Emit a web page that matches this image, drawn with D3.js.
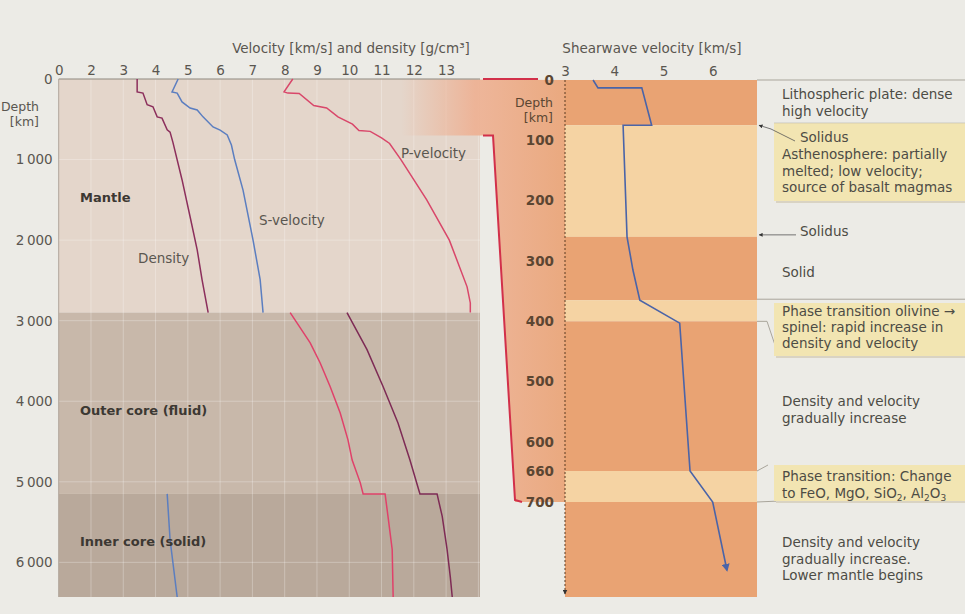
<!DOCTYPE html>
<html>
<head>
<meta charset="utf-8">
<script src="https://cdn.jsdelivr.net/npm/d3@7"></script>
<style>
  html, body { margin: 0; padding: 0; background: #ecebe6; }
  svg { display: block; font-family: "DejaVu Sans", "Open Sans", sans-serif; }
</style>
</head>
<body>
<svg id="chart" width="965" height="614"></svg>
<script>
// ---- Whole-Earth profile (left panel) ----
const velTicks = [1, 2, 3, 4, 5, 6, 7, 8, 9, 10, 11, 12, 13];
const velTickLabels = ["0", "2", "3", "4", "5", "6", "7", "8", "9", "10", "11", "12", "13"];
const depthTicks = [0, 1000, 2000, 3000, 4000, 5000, 6000];

const earthLayers = ["Mantle", "Outer core (fluid)", "Inner core (solid)"];
const earthLayerTop = [0, 2900, 5150];
const earthLayerBottom = [2900, 5150, 6430];

// [depth km, value]
const densityMantle = [[0,3.43],[160,3.43],[175,3.61],[320,3.74],[345,3.92],[470,4.05],[485,4.2],[630,4.36],[660,4.45],[790,4.54],[1250,4.82],[1710,5.07],[2120,5.29],[2490,5.44],[2900,5.63]];
const densityCore = [[2900,9.93],[3360,10.55],[3820,11.05],[4270,11.51],[4730,11.88],[5150,12.19],[5150,12.72],[5430,12.88],[5840,13.03],[6180,13.13],[6430,13.19]];
const sVelMantle = [[0,4.70],[160,4.51],[175,4.67],[285,4.82],[360,5.07],[385,5.29],[470,5.47],[595,5.78],[635,6.0],[695,6.22],[820,6.35],[1000,6.45],[1380,6.71],[2000,7.02],[2490,7.24],[2900,7.33]];
const sVelInnerCore = [[5150,4.36],[5720,4.45],[6430,4.67]];
const pVelMantle = [[0,8.25],[160,7.98],[175,8.1],[180,8.45],[330,8.9],[360,9.3],[470,9.65],[560,10.1],[640,10.3],[650,10.65],[730,11.0],[800,11.25],[1000,11.6],[1500,12.4],[2000,13.1],[2580,13.65],[2780,13.75],[2900,13.75]];
const pVelCore = [[2900,8.17],[3275,8.79],[3525,9.1],[3820,9.41],[4145,9.72],[4480,9.96],[4730,10.09],[5010,10.34],[5150,10.43],[5150,11.11],[5430,11.2],[5840,11.33],[6430,11.36]];

// ---- Upper mantle detail (right panel) ----
const shearTicks = [3, 4, 5, 6];
const upperDepthTicks = [0, 100, 200, 300, 400, 500, 600, 660, 700];
const bandEdges = [0, 75, 260, 365, 400, 660, 700, 860];
const bandKind = ["solid", "soft", "solid", "soft", "solid", "soft", "solid"];
const shearProfile = [[0,3.57],[13,3.67],[13,4.56],[75,4.76],[75,4.18],[260,4.26],[315,4.38],[365,4.52],[403,5.33],[660,5.54],[700,6.0],[815,6.29]];

const noteLitho = ["Lithospheric plate: dense", "high velocity"];
const noteAstheno = ["Asthenosphere: partially", "melted; low velocity;", "source of basalt magmas"];
const noteSolidus = "Solidus";
const noteSolid = "Solid";
const noteOlivine = ["Phase transition olivine \u2192", "spinel: rapid increase in", "density and velocity"];
const noteGradual = ["Density and velocity", "gradually increase"];
const notePhase660 = "Phase transition: Change";
const noteLower = ["Density and velocity", "gradually increase.", "Lower mantle begins"];

const svg = d3.select("#chart");
const textCol = "#4d4c45";
const fs = 13.5;

// scales
const xL = d3.scaleLinear().domain([1, 14.05]).range([58.7, 480]);
const yL = d3.scaleLinear().domain([0, 6430]).range([79, 597]);
const xR = d3.scaleLinear().domain([3, 6.9]).range([565, 757]);
const yR = d3.scaleLinear().domain([0, 600, 660, 700, 860]).range([80, 442, 471, 502, 597]);

const defs = svg.append("defs");
const grad = defs.append("linearGradient").attr("id", "wedge").attr("x1", "0").attr("x2", "1").attr("y1", "0").attr("y2", "0");
grad.append("stop").attr("offset", "0").attr("stop-color", "#eeb092").attr("stop-opacity", 0);
grad.append("stop").attr("offset", "0.45").attr("stop-color", "#eeb092").attr("stop-opacity", 0.9);
grad.append("stop").attr("offset", "1").attr("stop-color", "#eaa97f").attr("stop-opacity", 1);
defs.append("marker").attr("id", "arrowBlue").attr("viewBox", "0 0 10 10").attr("refX", 8).attr("refY", 5)
  .attr("markerWidth", 5).attr("markerHeight", 5).attr("orient", "auto")
  .append("path").attr("d", "M0,0 L10,5 L0,10 z").attr("fill", "#4a64a8");
defs.append("marker").attr("id", "arrowDark").attr("viewBox", "0 0 10 10").attr("refX", 9).attr("refY", 5)
  .attr("markerWidth", 5).attr("markerHeight", 5).attr("orient", "auto")
  .append("path").attr("d", "M0,0 L10,5 L0,10 z").attr("fill", "#333");

// ---- left panel background layers ----
const layerFill = ["#e4d6cb", "#c8b8aa", "#b9a99b"];
svg.append("g").selectAll("rect").data(earthLayers).join("rect")
  .attr("x", xL(1)).attr("width", xL(14.05) - xL(1))
  .attr("y", (d, i) => yL(earthLayerTop[i]))
  .attr("height", (d, i) => yL(earthLayerBottom[i]) - yL(earthLayerTop[i]))
  .attr("fill", (d, i) => layerFill[i]);

// grid
const grid = svg.append("g").attr("stroke", "#ffffff").attr("stroke-opacity", 0.28).attr("stroke-width", 1);
grid.selectAll("line.v").data(velTicks.slice(1).concat([14])).join("line")
  .attr("x1", d => xL(d)).attr("x2", d => xL(d)).attr("y1", yL(0)).attr("y2", yL(6430));
grid.selectAll("line.h").data(depthTicks.slice(1)).join("line").attr("class", "h")
  .attr("x1", xL(1)).attr("x2", xL(14.05)).attr("y1", d => yL(d)).attr("y2", d => yL(d));

// zoom wedge linking 0-700 km of the left panel to the right panel
const wedgeTopL = yL(0), wedgeBotL = yL(700);
svg.append("path")
  .attr("d", `M${xL(11.6)},${wedgeTopL} L${xR(3)},${yR(0)} L${xR(3)},${yR(700)} L${xR(3) - 50},${yR(700)} L${xL(14.05) + 13},${wedgeBotL} L${xL(11.6)},${wedgeBotL} Z`)
  .attr("fill", "url(#wedge)");

// left panel frame lines
svg.append("line").attr("x1", xL(1)).attr("x2", xL(14.05)).attr("y1", yL(0)).attr("y2", yL(0)).attr("stroke", "#8e887e").attr("stroke-width", 1.2);
svg.append("line").attr("x1", xL(1)).attr("x2", xL(1)).attr("y1", yL(0)).attr("y2", yL(6430)).attr("stroke", "#b0a69c").attr("stroke-width", 1);

// ---- right panel bands ----
const bandFill = { solid: "#e9a373", soft: "#f5d3a3" };
svg.append("g").selectAll("rect").data(bandKind).join("rect")
  .attr("x", xR(3)).attr("width", xR(6.9) - xR(3))
  .attr("y", (d, i) => yR(bandEdges[i]))
  .attr("height", (d, i) => yR(bandEdges[i + 1]) - yR(bandEdges[i]))
  .attr("fill", d => bandFill[d]);

// annotation rules and boxes
const noteX = 782;
const rules = svg.append("g").attr("stroke", "#a9a59b").attr("stroke-width", 1).attr("fill", "none");
rules.append("line").attr("x1", xR(6.9)).attr("x2", 965).attr("y1", yR(0)).attr("y2", yR(0));
rules.append("line").attr("x1", xR(6.9)).attr("x2", 965).attr("y1", yR(365) - 1).attr("y2", yR(365) - 1);

const boxFill = "#f2e5b2";
function noteBox(y0, y1) {
  svg.append("rect").attr("x", 776).attr("y", y0 + 2).attr("width", 200).attr("height", y1 - y0).attr("fill", "#d9d3c3");
  svg.append("rect").attr("x", 774).attr("y", y0).attr("width", 200).attr("height", y1 - y0).attr("fill", boxFill);
}
noteBox(yR(75) - 2, 201);
noteBox(303, 356);
noteBox(yR(660) - 6, yR(700) - 1);

rules.append("line").attr("x1", 774).attr("x2", 965).attr("y1", yR(75) - 2).attr("y2", yR(75) - 2);
rules.append("path").attr("d", `M${xR(6.9)},${yR(400)} L${767},${yR(400)} L${778},${354}`);
rules.append("path").attr("d", `M${xR(6.9)},${yR(660)} L${768},${yR(660) - 6}`);
rules.append("path").attr("d", `M${xR(6.9)},${yR(700)} L${780},${yR(700) - 1}`);

// solidus pointers
svg.append("path").attr("d", `M${795},${141} L${771},${129} L${xR(6.9) + 2},${yR(75)}`)
  .attr("stroke", "#555").attr("stroke-width", 0.8).attr("fill", "none").attr("marker-end", "url(#arrowDark)");
svg.append("path").attr("d", `M${796},${yR(260) - 2} L${xR(6.9) + 2},${yR(260) - 2}`)
  .attr("stroke", "#555").attr("stroke-width", 0.8).attr("fill", "none").attr("marker-end", "url(#arrowDark)");

// note text
function lines(arr, y0, step) {
  const t = svg.append("text").attr("fill", textCol).attr("font-size", fs);
  arr.forEach((s, i) => t.append("tspan").attr("x", noteX).attr("y", y0 + i * step).text(s));
  return t;
}
const single = (x, y, s) => svg.append("text").attr("x", x).attr("y", y).attr("fill", textCol).attr("font-size", fs).text(s);
lines(noteLitho, 99, 16.5);
single(800, 142, noteSolidus);
lines(noteAstheno, 159, 16.5);
single(800, 236, noteSolidus);
single(noteX, 277, noteSolid);
lines(noteOlivine, 316, 16);
lines(noteGradual, 406, 16.5);
single(noteX, 481, notePhase660);
{
  const t = svg.append("text").attr("x", noteX).attr("y", 497.5).attr("fill", textCol).attr("font-size", fs);
  t.append("tspan").text("to FeO, MgO, SiO");
  t.append("tspan").attr("font-size", 9).attr("dy", 3).text("2");
  t.append("tspan").attr("dy", -3).text(", Al");
  t.append("tspan").attr("font-size", 9).attr("dy", 3).text("2");
  t.append("tspan").attr("dy", -3).text("O");
  t.append("tspan").attr("font-size", 9).attr("dy", 3).text("3");
}
lines(noteLower, 547, 16.5);

// right panel depth axis line (dashed, with arrow)
svg.append("line").attr("x1", xR(3)).attr("x2", xR(3)).attr("y1", yR(0)).attr("y2", yR(860) - 3)
  .attr("stroke", "#5a3b22").attr("stroke-width", 1).attr("stroke-dasharray", "2,2").attr("marker-end", "url(#arrowDark)");

// shear-wave profile
svg.append("path").datum(shearProfile)
  .attr("d", d3.line().x(d => xR(d[1])).y(d => yR(d[0])))
  .attr("fill", "none").attr("stroke", "#4a64a8").attr("stroke-width", 1.6).attr("marker-end", "url(#arrowBlue)");

// ---- left panel curves ----
const lineL = d3.line().x(d => xL(d[1])).y(d => yL(d[0]));
const curves = [
  [densityMantle, "#8c2f5c"], [densityCore, "#7e2b55"],
  [sVelMantle, "#5b7ec0"], [sVelInnerCore, "#5b7ec0"],
  [pVelMantle, "#d9476a"], [pVelCore, "#e0416a"]
];
svg.append("g").selectAll("path").data(curves).join("path")
  .attr("d", d => lineL(d[0])).attr("fill", "none").attr("stroke", d => d[1]).attr("stroke-width", 1.5);

// red bracket marking 0-700 km
const red = "#d2304a";
svg.append("line").attr("x1", xL(14.05) + 3).attr("x2", 538).attr("y1", yL(0)).attr("y2", yL(0)).attr("stroke", red).attr("stroke-width", 2);
svg.append("path").attr("d", `M${xL(14.05) + 3},${yL(700)} L${xL(14.05) + 13},${yL(700)} L${xR(3) - 50},${yR(700) - 2} L${xR(3) - 43},${yR(700)}`)
  .attr("stroke", red).attr("stroke-width", 2).attr("fill", "none");

// ---- axes ----
const axisStyle = g => {
  g.select(".domain").remove();
  g.selectAll("text").attr("fill", "#5a5650").attr("font-size", fs).attr("font-family", "\"DejaVu Sans\", sans-serif");
};
svg.append("g").attr("transform", `translate(0,${yL(0)})`)
  .call(d3.axisTop(xL).tickValues(velTicks).tickFormat((d, i) => velTickLabels[i]).tickSize(0).tickPadding(4))
  .call(axisStyle);
svg.append("g").attr("transform", `translate(${xL(1) - 6},0)`)
  .call(d3.axisLeft(yL).tickValues(depthTicks).tickFormat(d => d === 0 ? "0" : d3.format(",")(d).replace(",", "\u2009")).tickSize(0).tickPadding(0))
  .call(axisStyle);
svg.append("g").attr("transform", `translate(0,${yR(0)})`)
  .call(d3.axisTop(xR).tickValues(shearTicks).tickFormat(d3.format("d")).tickSize(0).tickPadding(4))
  .call(axisStyle);
svg.append("g").attr("transform", `translate(${xR(3) - 11},0)`)
  .call(d3.axisLeft(yR).tickValues(upperDepthTicks).tickFormat(d3.format("d")).tickSize(0).tickPadding(0))
  .call(axisStyle)
  .call(g => g.selectAll("text").attr("fill", "#5b4632").attr("font-weight", 600));

// titles
svg.append("text").attr("x", 351).attr("y", 53).attr("text-anchor", "middle").attr("fill", "#5a5650").attr("font-size", fs)
  .text("Velocity [km/s] and density [g/cm\u00B3]");
svg.append("text").attr("x", 652).attr("y", 53).attr("text-anchor", "middle").attr("fill", "#5a5650").attr("font-size", fs)
  .text("Shearwave velocity [km/s]");
const depthLbl = (x, y, col) => {
  const t = svg.append("text").attr("text-anchor", "end").attr("fill", col).attr("font-size", 12.5);
  t.append("tspan").attr("x", x).attr("y", y).text("Depth");
  t.append("tspan").attr("x", x).attr("y", y + 15).text("[km]");
};
depthLbl(39, 111, "#5a5650");
depthLbl(553, 107, "#5b4632");

// region and curve labels
const bold = (x, y, s) => svg.append("text").attr("x", x).attr("y", y).attr("fill", "#3c3833").attr("font-size", 13).attr("font-weight", 700).text(s);
bold(80, 202, earthLayers[0]);
bold(80, 415, earthLayers[1]);
bold(80, 546, earthLayers[2]);
const lbl = (x, y, s) => svg.append("text").attr("x", x).attr("y", y).attr("fill", "#5a5650").attr("font-size", fs).text(s);
lbl(138, 263, "Density");
lbl(259, 225, "S-velocity");
lbl(401, 158, "P-velocity");
</script>
</body>
</html>
